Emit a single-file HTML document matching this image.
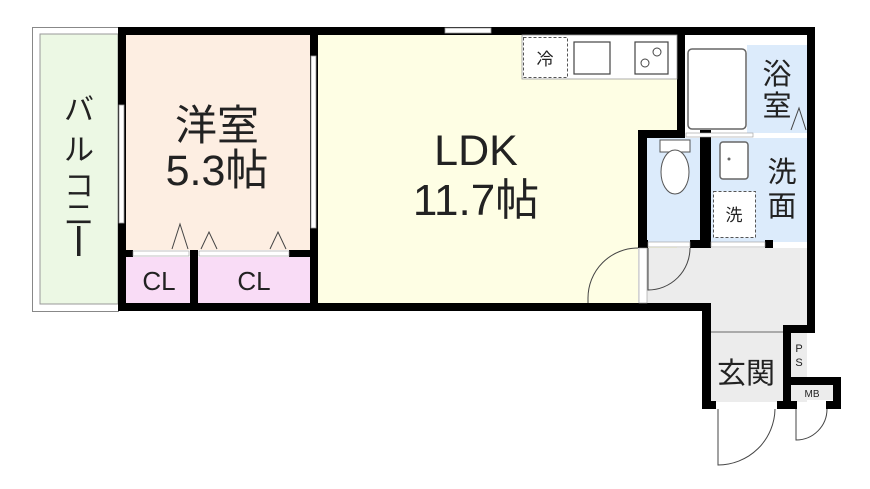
<!DOCTYPE html>
<html><head><meta charset="utf-8"><style>
html,body{margin:0;padding:0;background:#fff;width:870px;height:489px;overflow:hidden}
text{font-family:"Liberation Sans","Noto Sans CJK JP",sans-serif;fill:#222}
</style></head><body>
<svg width="870" height="489" viewBox="0 0 870 489" xmlns="http://www.w3.org/2000/svg">
<rect x="32.5" y="27.5" width="86" height="284" fill="#fff" stroke="#888"/>
<rect x="40" y="34" width="78" height="270" fill="#ecf8e4" stroke="#999"/>
<rect x="126" y="34" width="184" height="216" fill="#fdeee2"/>
<rect x="126" y="257" width="64" height="46" fill="#f9dcf6"/>
<rect x="198" y="257" width="112" height="46" fill="#f9dcf6"/>
<rect x="318" y="34" width="359" height="269" fill="#fefee4"/>
<rect x="638" y="248" width="169" height="55" fill="#ececec"/>
<rect x="710" y="248" width="97" height="154" fill="#ececec"/>
<rect x="685" y="35" width="122" height="98" fill="#fff"/>
<rect x="747" y="45" width="60" height="88" fill="#dcebfb"/>
<rect x="647" y="138" width="54" height="104" fill="#dcebfb"/>
<rect x="711" y="138" width="96" height="104" fill="#dcebfb"/>
<rect x="688" y="49" width="58" height="80" rx="4" fill="#fff" stroke="#666" stroke-width="1.5"/>
<g fill="#000">
<rect x="118" y="27" width="697" height="8"/>
<rect x="118" y="27" width="8" height="284"/>
<rect x="118" y="303" width="592" height="8"/>
<rect x="310" y="27" width="8" height="284"/>
<rect x="126" y="250" width="7" height="7"/>
<rect x="289" y="250" width="21" height="7"/>
<rect x="190" y="250" width="8" height="53"/>
<rect x="807" y="27" width="8" height="300"/>
<rect x="677" y="27" width="8" height="106"/>
<rect x="638" y="130" width="47" height="8"/>
<rect x="638" y="130" width="9" height="118"/>
<rect x="700" y="130" width="11" height="118"/>
<rect x="638" y="240" width="10" height="8"/>
<rect x="690" y="240" width="21" height="8"/>
<rect x="765" y="240" width="8" height="8"/>
<rect x="702" y="303" width="9" height="106"/>
<rect x="702" y="401" width="14" height="8"/>
<rect x="777" y="401" width="20" height="8"/>
<rect x="783" y="325" width="32" height="8"/>
<rect x="783" y="325" width="8" height="80"/>
<rect x="783" y="377" width="58" height="8"/>
<rect x="833" y="377" width="8" height="32"/>
<rect x="826" y="401" width="15" height="8"/>
</g>
<rect x="445" y="28" width="46" height="5" fill="#fff" stroke="#999" stroke-width="0.8"/>
<rect x="119" y="105" width="5" height="118" fill="#fff" stroke="#999" stroke-width="0.8"/>
<rect x="311" y="56" width="5" height="172" fill="#fff" stroke="#999" stroke-width="0.8"/>
<rect x="133" y="251" width="56" height="5" fill="#fff" stroke="#999" stroke-width="0.6"/>
<rect x="199" y="251" width="90" height="5" fill="#fff" stroke="#999" stroke-width="0.6"/>
<rect x="686" y="133" width="67" height="4" fill="#fff" stroke="#999" stroke-width="0.6"/>
<rect x="648" y="242" width="42" height="5" fill="#fff" stroke="#999" stroke-width="0.6"/>
<rect x="711" y="242" width="54" height="5" fill="#fff" stroke="#999" stroke-width="0.6"/>
<rect x="639" y="248" width="8" height="55" fill="#fff" stroke="#999" stroke-width="0.6"/>
<line x1="711" y1="332" x2="783" y2="332" stroke="#aaa" stroke-width="2"/>
<g fill="none" stroke="#444" stroke-width="1">
<path d="M172 249 L180 224 L188 249"/><path d="M201 249 L209 232 L217 249"/><path d="M270 249 L278 232 L286 249"/>
<path d="M791 130 L799 108 L806 130"/>
<path d="M638 248 A50 50 0 0 0 588 298 L588 303"/>
<path d="M648 248 L648 290 A42 42 0 0 0 690 248"/>
<path d="M718 409 L718 465 A57 57 0 0 0 775 409"/>
<path d="M796 409 L796 440 A31 31 0 0 0 827 409"/>
</g>
<rect x="522" y="35" width="155" height="44" fill="#fff" stroke="#999" stroke-width="0.8"/>
<rect x="523.5" y="37.5" width="44" height="40" fill="#fff" stroke="#555" stroke-dasharray="3,2"/>
<text x="545" y="65" font-size="17" text-anchor="middle">冷</text>
<rect x="574" y="42" width="36" height="32" fill="#fff" stroke="#444" stroke-width="1.2"/>
<rect x="635" y="42" width="33" height="32" fill="#fff" stroke="#444" stroke-width="1.2"/>
<circle cx="645" cy="63" r="4" fill="none" stroke="#444"/><circle cx="657" cy="52" r="4" fill="none" stroke="#444"/>
<rect x="660" y="140" width="30" height="12" fill="#fff" stroke="#555"/>
<ellipse cx="675" cy="172" rx="14" ry="22" fill="#fff" stroke="#555"/>
<rect x="720" y="142" width="28" height="37" rx="3" fill="#fff" stroke="#666" stroke-width="1.5"/>
<circle cx="729" cy="159" r="1.5" fill="#666"/>
<rect x="713.5" y="191.5" width="42" height="46" fill="#fff" stroke="#555" stroke-dasharray="3,2"/>
<text x="734" y="221" font-size="17" text-anchor="middle">洗</text>
<rect x="791" y="333" width="16" height="44" fill="#ececec"/>
<text x="799" y="352" font-size="11" text-anchor="middle">P</text>
<text x="799" y="366" font-size="11" text-anchor="middle">S</text>
<rect x="791" y="385" width="42" height="15" fill="#ececec"/>
<text x="812" y="397" font-size="10" text-anchor="middle">MB</text>
<g font-size="30">
<text x="79" y="120" text-anchor="middle">バ</text>
<text x="79" y="160" text-anchor="middle">ル</text>
<text x="79" y="196" text-anchor="middle">コ</text>
<text x="79" y="225" text-anchor="middle">ニ</text>
</g>
<rect x="77" y="226" width="3.5" height="30" fill="#222"/>
<text x="217" y="140" font-size="42" text-anchor="middle">洋室</text>
<text x="217" y="185" font-size="43" text-anchor="middle">5.3帖</text>
<text x="159" y="290" font-size="26" text-anchor="middle">CL</text>
<text x="254" y="290" font-size="26" text-anchor="middle">CL</text>
<text x="476" y="165" font-size="43" text-anchor="middle">LDK</text>
<text x="476" y="215" font-size="44" text-anchor="middle">11.7帖</text>
<text x="777" y="84" font-size="29" text-anchor="middle">浴</text>
<text x="777" y="116" font-size="29" text-anchor="middle">室</text>
<text x="782" y="182" font-size="29" text-anchor="middle">洗</text>
<text x="782" y="216" font-size="29" text-anchor="middle">面</text>
<text x="746" y="383" font-size="29" text-anchor="middle">玄関</text>
</svg>
</body></html>
